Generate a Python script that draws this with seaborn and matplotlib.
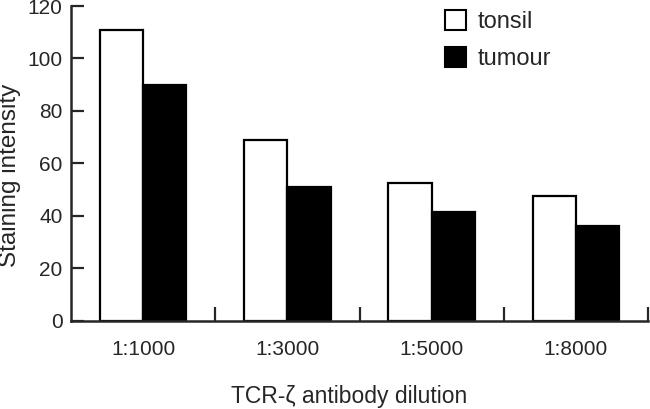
import pandas as pd
import numpy as np
import matplotlib
matplotlib.use("Agg")
import matplotlib.pyplot as plt
import seaborn as sns
from matplotlib.patches import Patch

# ===============================
# Data
# ===============================

dilutions = ["1:1000", "1:3000", "1:5000", "1:8000"]
tonsil = [111, 69, 52.5, 47.5]
tumour = [90, 51, 41.5, 36]

df = pd.DataFrame({
    "dilution": dilutions * 2,
    "tissue": ["tonsil"] * 4 + ["tumour"] * 4,
    "intensity": tonsil + tumour,
})

# ===============================
# Plot
# ===============================

sns.set_style("ticks")
plt.rcParams["font.family"] = ["Liberation Sans", "DejaVu Sans"]

fig = plt.figure(figsize=(6.5, 4.09), dpi=100)
ax = fig.add_axes([71 / 650, 1 - 320.7 / 409, 577 / 650, (320.7 - 6) / 409])

sns.barplot(
    data=df,
    x="dilution",
    y="intensity",
    hue="tissue",
    palette={"tonsil": "white", "tumour": "black"},
    edgecolor="black",
    linewidth=1.6,
    width=0.6,
    gap=0,
    legend=False,
    ax=ax,
)

ax.set_xlim(-0.5, 3.5)
ax.set_ylim(0, 120)
ax.set_yticks(np.arange(0, 121, 20))

sns.despine(ax=ax)
for side in ["left", "bottom"]:
    ax.spines[side].set_linewidth(1.8)

ax.tick_params(axis="y", direction="in", length=9.5, width=1.6, pad=6, labelsize=15)
ax.tick_params(axis="x", which="major", length=0, pad=14, labelsize=15)
ax.set_xticks([0.5, 1.5, 2.5, 3.5], minor=True)
ax.tick_params(axis="x", which="minor", direction="in", length=10, width=1.6)

ax.set_xlabel("TCR-ζ antibody dilution", fontsize=16.5)
ax.set_ylabel("Staining intensity", fontsize=17.5)
ax.xaxis.set_label_coords(0.482, -0.204)
ax.yaxis.set_label_coords(-0.086, 0.463)

handles = [
    Patch(facecolor="white", edgecolor="black", linewidth=1.5, label="tonsil"),
    Patch(facecolor="black", edgecolor="black", linewidth=1.5, label="tumour"),
]
fig.legend(
    handles=handles,
    loc="upper left",
    bbox_to_anchor=(445 / 650, 1 - 10 / 409),
    frameon=False,
    fontsize=17,
    handlelength=0.9,
    handleheight=0.9,
    handletextpad=0.5,
    labelspacing=0.6,
    borderpad=0,
    borderaxespad=0,
)

plt.savefig("out.png", dpi=100)
